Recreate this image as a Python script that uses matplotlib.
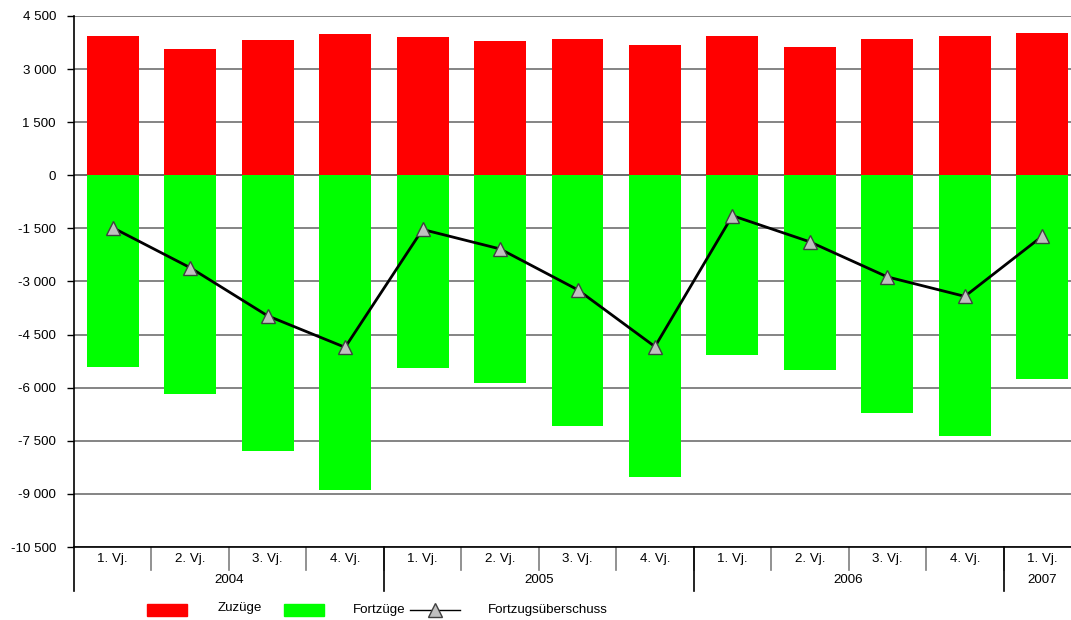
import matplotlib
matplotlib.use("Agg")
import matplotlib.pyplot as plt
from matplotlib.ticker import FuncFormatter, MultipleLocator
from matplotlib.patches import Rectangle
from matplotlib.lines import Line2D

plt.rcParams['font.family'] = ['Liberation Sans', 'DejaVu Sans']

# Daten
quartale = ["1. Vj.", "2. Vj.", "3. Vj.", "4. Vj.",
            "1. Vj.", "2. Vj.", "3. Vj.", "4. Vj.",
            "1. Vj.", "2. Vj.", "3. Vj.", "4. Vj.",
            "1. Vj."]
jahre = ["2004", "2005", "2006", "2007"]
quartale_pro_jahr = [4, 4, 4, 1]

zuzuege = [3940, 3570, 3820, 3990, 3910, 3790, 3850, 3680, 3940, 3620, 3850, 3940, 4020]
fortzuege = [-5420, -6180, -7790, -8890, -5440, -5870, -7080, -8520, -5080, -5500, -6720, -7360, -5750]
ueberschuss = [-1480, -2610, -3970, -4860, -1530, -2080, -3230, -4840, -1140, -1880, -2870, -3420, -1720]

rot = "#ff0000"
gruen = "#00ff00"
fs = 9.6

fig = plt.figure(figsize=(10.71, 6.2), dpi=100)
ax = fig.add_axes([74 / 1071, 1 - 547 / 620, (1081 - 74) / 1071, (547 - 16) / 620])

x = list(range(len(quartale)))

# Gitterlinien
for y in range(-10500, 4501, 1500):
    ax.axhline(y, color="#6f6f6f" if y != 0 else "#505050", lw=1.2, zorder=0)

ax.bar(x, zuzuege, width=0.67, color=rot, zorder=2)
ax.bar(x, fortzuege, width=0.67, color=gruen, zorder=2)
ax.plot(x, ueberschuss, color="black", lw=2, marker="^", markersize=10,
        markerfacecolor="#c0c0c0", markeredgecolor="#404040", markeredgewidth=1, zorder=3)

ax.set_xlim(-0.5, len(quartale) - 0.5)
ax.set_ylim(-10500, 4500)
ax.yaxis.set_major_locator(MultipleLocator(1500))
ax.yaxis.set_major_formatter(FuncFormatter(lambda v, p: f"{int(v):,}".replace(",", " ")))
ax.tick_params(axis="y", length=5, width=1, labelsize=fs, pad=8, colors="black")
ax.set_xticks([])

for s in ["top", "right"]:
    ax.spines[s].set_visible(False)
ax.spines["left"].set_linewidth(1.2)
ax.spines["bottom"].set_linewidth(1.2)

# Kategorien unterhalb der Achse
trans = ax.get_xaxis_transform()
h = 531.0
for i, q in enumerate(quartale):
    ax.text(i, -12 / h, q, transform=trans, ha="center", va="center", fontsize=fs)
    if i > 0:
        ax.plot([i - 0.5, i - 0.5], [0, -23 / h], transform=trans, color="#7f7f7f",
                lw=1.2, clip_on=False)

start = 0
for jahr, n in zip(jahre, quartale_pro_jahr):
    ax.plot([start - 0.5, start - 0.5], [0, -44 / h], transform=trans, color="black",
            lw=1.2, clip_on=False)
    ax.text(start - 0.5 + n / 2, -33 / h, jahr, transform=trans, ha="center", va="center",
            fontsize=fs)
    start += n

# Legende
ly = 1 - 610 / 620
fig.add_artist(Rectangle((147 / 1071, ly - 6 / 620), 40 / 1071, 12 / 620,
                         transform=fig.transFigure, color=rot))
fig.text(218 / 1071, ly + 2 / 620, "Zuzüge", ha="left", va="center", fontsize=fs)
fig.add_artist(Rectangle((284 / 1071, ly - 6 / 620), 40 / 1071, 12 / 620,
                         transform=fig.transFigure, color=gruen))
fig.text(353 / 1071, ly, "Fortzüge", ha="left", va="center", fontsize=fs)
fig.add_artist(Line2D([410 / 1071, 460 / 1071], [ly, ly], transform=fig.transFigure,
                      color="black", lw=1))
fig.add_artist(Line2D([435 / 1071], [ly], transform=fig.transFigure, marker="^",
                      markersize=10, markerfacecolor="#c0c0c0", markeredgecolor="#404040",
                      linestyle="none"))
fig.text(488 / 1071, ly, "Fortzugsüberschuss", ha="left", va="center", fontsize=fs)

fig.savefig("out.png", dpi=100)
